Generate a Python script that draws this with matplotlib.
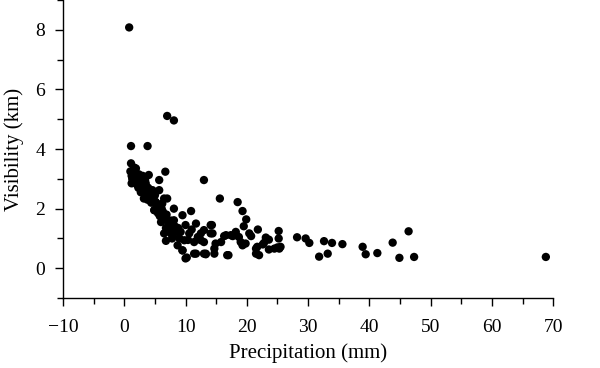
import numpy as np
import matplotlib
matplotlib.use("Agg")
import matplotlib.pyplot as plt
from matplotlib.ticker import MultipleLocator

plt.rcParams["font.family"] = ["Liberation Serif", "DejaVu Serif"]

# 降水量 (mm) 与能见度 (km)
precip = [
    0.8, 7.0, 8.1,
    1.1, 3.8, 1.1, 1.6, 6.7, 5.7, 4.0, 3.5, 4.6, 5.7, 5.1, 6.2, 7.0,
    1.0, 1.2, 1.3, 1.4, 1.5, 1.2, 1.8, 2.0, 2.2, 2.4, 2.1, 2.3, 1.9,
    2.6, 2.8, 3.0, 3.2, 3.4, 2.7, 3.1, 3.6, 3.9, 4.2, 4.4, 3.8, 4.1,
    4.7, 5.0, 5.3, 4.9, 5.2, 5.5, 5.8, 6.1, 6.4, 6.0, 6.3, 6.6, 6.9, 7.2,
    7.4, 6.8, 7.6, 7.9, 8.3, 8.6, 8.0, 8.8,
    13.0, 15.6, 3.2, 4.3, 6.5, 4.9, 10.9, 8.1, 6.5, 6.8, 9.5, 10.2, 11.7,
    13.3, 16.8, 18.5, 19.3, 19.9, 19.5, 21.8, 25.2, 25.2, 28.2, 29.6, 30.2,
    32.6, 33.9, 35.6, 33.2, 31.8, 14.3, 16.3, 17.7, 18.2, 18.7, 20.4, 20.7,
    23.1, 23.6, 25.3, 24.5, 22.6, 21.5, 21.5, 22.0, 23.6, 14.7, 14.9, 13.3,
    12.5, 13.0, 14.1, 15.8, 19.0, 19.3, 19.8,
    38.9, 39.4, 41.3, 43.8, 46.4, 44.9, 47.3, 68.8,
    9.5, 8.1, 10.0, 11.7, 14.1, 9.2, 10.6, 12.5, 14.4, 9.8, 11.4, 13.0,
    8.7, 9.5, 13.0, 14.7, 10.0, 11.4, 7.6, 8.4, 17.4, 16.6, 22.8, 21.7,
    25.0, 25.5, 17.0, 9.0, 10.4, 11.0, 12.0, 7.8,
]
visib = [
    8.08, 5.11, 4.96,
    4.10, 4.10, 3.52, 3.38, 3.24, 2.96, 3.13, 2.85, 2.62, 2.62, 2.23, 2.17, 2.34,
    3.25, 3.10, 3.00, 2.90, 3.30, 2.85, 3.20, 3.05, 2.95, 3.15, 2.80, 2.70, 3.35,
    3.00, 2.90, 3.10, 2.75, 2.95, 2.55, 2.65, 2.45, 2.70, 2.40, 2.20, 2.30, 2.55,
    2.35, 2.45, 2.05, 1.95, 2.20, 1.85, 1.75, 2.00, 1.70, 1.55, 1.90, 1.65, 1.80, 1.50,
    1.45, 1.35, 1.60, 1.30, 1.40, 1.25, 1.15, 1.35,
    2.96, 2.34, 2.34, 2.28, 2.34, 1.95, 1.92, 2.00, 1.17, 0.92, 0.60, 0.36, 0.49,
    0.47, 0.44, 2.22, 1.92, 1.64, 1.41, 1.30, 1.25, 1.00, 1.04, 1.00, 0.85,
    0.91, 0.85, 0.81, 0.49, 0.39, 1.45, 1.08, 1.08, 1.22, 1.05, 1.17, 1.08,
    1.03, 0.96, 0.66, 0.66, 0.80, 0.66, 0.49, 0.44, 0.63, 0.66, 0.83, 0.49,
    0.94, 1.28, 1.17, 0.88, 0.88, 0.77, 0.83,
    0.72, 0.47, 0.51, 0.86, 1.24, 0.35, 0.38, 0.38,
    1.78, 1.61, 1.45, 1.50, 1.45, 1.22, 1.17, 1.17, 1.17, 0.94, 0.88, 0.88,
    0.77, 0.60, 0.49, 0.49, 0.33, 0.49, 1.17, 1.28, 1.11, 1.11, 0.85, 0.72,
    0.70, 0.72, 0.44, 1.00, 0.95, 1.30, 1.05, 1.00,
]

fig = plt.figure(figsize=(6, 3.68), dpi=100)
ax = fig.add_axes([0.105, 0.19, 0.817, 0.81])
ax.scatter(precip, visib, s=36, color="black", edgecolors="none")

ax.set_xlim(-10, 70)
ax.set_ylim(-1, 9)
ax.xaxis.set_major_locator(MultipleLocator(10))
ax.xaxis.set_minor_locator(MultipleLocator(5))
ax.yaxis.set_major_locator(MultipleLocator(2))
ax.yaxis.set_minor_locator(MultipleLocator(1))
ax.tick_params(which="major", direction="out", length=6, width=1, labelsize=14)
ax.tick_params(axis="x", which="major", pad=9)
ax.tick_params(axis="y", which="major", pad=7)
ax.tick_params(which="minor", direction="out", length=4, width=1)
for side in ["top", "right"]:
    ax.spines[side].set_visible(False)
ax.spines["left"].set_linewidth(1)
ax.spines["bottom"].set_linewidth(1)

ax.set_xlabel("Precipitation (mm)", fontsize=15, labelpad=5)
ax.set_ylabel("Visibility (km)", fontsize=15, labelpad=8)

fig.savefig("out.png", dpi=100)
